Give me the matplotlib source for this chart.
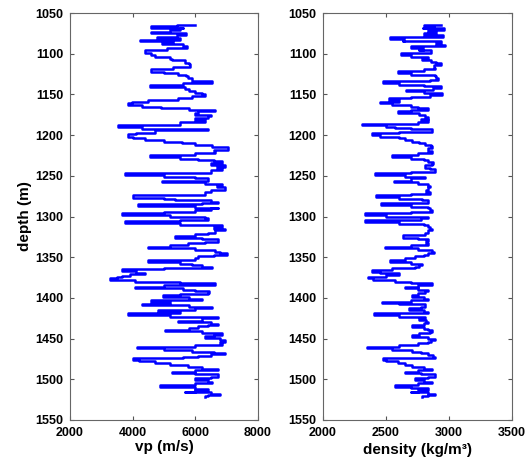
import matplotlib
matplotlib.use("Agg")
import matplotlib.pyplot as plt

# well log readings: depth (m) and P-wave velocity (m/s)
vp_depth = [1065, 1066, 1068, 1069, 1071, 1073, 1075, 1077, 1079, 1081, 1083, 1085, 1087, 1088, 1090,
            1093, 1096, 1099, 1101, 1104, 1106, 1108, 1111, 1113, 1116, 1119, 1122, 1124, 1126, 1128,
            1130, 1133, 1136, 1138, 1141, 1143, 1146, 1148, 1150, 1152, 1155, 1157, 1159, 1161, 1163,
            1165, 1167, 1169, 1171, 1173, 1175, 1177, 1179, 1181, 1184, 1187, 1190, 1192, 1194, 1197,
            1199, 1202, 1204, 1206, 1208, 1210, 1212, 1215, 1218, 1220, 1222, 1225, 1227, 1229, 1230,
            1232, 1234, 1237, 1239, 1241, 1243, 1246, 1249, 1251, 1253, 1256, 1258, 1260, 1261, 1264,
            1267, 1270, 1272, 1274, 1277, 1279, 1280, 1282, 1283, 1285, 1287, 1289, 1290, 1292, 1294,
            1296, 1298, 1300, 1302, 1304, 1306, 1308, 1310, 1313, 1315, 1317, 1320, 1322, 1324, 1326,
            1328, 1331, 1333, 1335, 1337, 1339, 1341, 1343, 1345, 1347, 1349, 1351, 1353, 1356, 1358,
            1360, 1362, 1363, 1365, 1367, 1369, 1371, 1373, 1374, 1376, 1378, 1380, 1382, 1384, 1386,
            1388, 1390, 1392, 1394, 1395, 1397, 1399, 1401, 1403, 1405, 1407, 1409, 1411, 1413, 1415,
            1417, 1419, 1421, 1423, 1425, 1428, 1430, 1432, 1433, 1435, 1437, 1439, 1441, 1443, 1445,
            1447, 1449, 1452, 1454, 1456, 1458, 1460, 1462, 1464, 1466, 1468, 1469, 1471, 1473, 1474,
            1476, 1478, 1480, 1482, 1485, 1487, 1489, 1491, 1492, 1494, 1497, 1499, 1501, 1503, 1505,
            1507, 1510, 1512, 1513, 1515, 1516, 1518, 1519, 1521, 1522]
vp = [5990, 5400, 4600, 5600, 5500, 5200, 4600, 5700, 5400, 4780, 5500, 4230, 5300, 4950, 5600,
      5720, 5100, 4390, 4600, 4710, 5200, 5240, 5670, 5800, 5830, 5300, 4600, 5000, 5450, 5700,
      5770, 5900, 6520, 5600, 4550, 5670, 5800, 5990, 6200, 6310, 5900, 5450, 4500, 3970, 3860,
      4300, 4920, 5800, 6620, 6100, 5990, 6500, 6410, 6000, 6310, 5500, 3540, 4300, 6410, 4710,
      4100, 3860, 4000, 4390, 5000, 5560, 6000, 6520, 7050, 6600, 6620, 6000, 4550, 5500, 6090,
      6600, 6840, 6500, 6940, 6700, 6840, 6500, 3755, 5000, 6000, 6400, 4925, 6300, 6840, 6700,
      6940, 6500, 6300, 6310, 4020, 5000, 5350, 6500, 6730, 6200, 4180, 6000, 6730, 6500, 5990,
      5000, 3650, 5200, 6310, 6410, 5500, 3755, 5500, 6840, 6600, 6940, 6620, 6400, 6000, 5350,
      6200, 6730, 6300, 5770, 5200, 4500, 6000, 6630, 6800, 7000, 6600, 6100, 6000, 4500, 5500,
      5880, 6200, 6520, 5000, 3650, 4100, 4390, 3900, 3650, 3500, 3280, 4070, 5500, 6630, 5000,
      4074, 5600, 5990, 6450, 6410, 5500, 4980, 5800, 6200, 4600, 5200, 4290, 5800, 6520, 6000,
      4820, 5500, 3860, 5200, 6730, 6200, 5450, 6500, 6730, 6400, 6090, 5800, 5030, 6200, 6840,
      6600, 6300, 6800, 6940, 6800, 6840, 6000, 4125, 5000, 5880, 6600, 6940, 6500, 6090, 5600,
      4020, 4200, 4710, 5200, 5770, 6200, 6730, 6000, 5240, 6000, 6730, 6500, 5990, 6400, 6520,
      6000, 4870, 6000, 6410, 6000, 5670, 6500, 6790, 6400, 6310]

# depth (m) and bulk density (kg/m^3)
rho_depth = [1065, 1066, 1068, 1069, 1071, 1073, 1075, 1077, 1079, 1082, 1084, 1085, 1087, 1089, 1091,
             1093, 1095, 1096, 1099, 1102, 1104, 1106, 1108, 1110, 1112, 1114, 1117, 1119, 1121, 1124,
             1126, 1128, 1130, 1132, 1134, 1136, 1138, 1140, 1142, 1144, 1146, 1148, 1151, 1153, 1155,
             1157, 1159, 1161, 1163, 1165, 1167, 1169, 1171, 1173, 1175, 1178, 1180, 1182, 1184, 1186,
             1188, 1190, 1191, 1193, 1196, 1198, 1200, 1202, 1204, 1206, 1208, 1210, 1212, 1214, 1216,
             1219, 1222, 1224, 1227, 1229, 1230, 1233, 1235, 1237, 1240, 1242, 1245, 1247, 1249, 1251,
             1253, 1256, 1258, 1260, 1262, 1264, 1267, 1270, 1272, 1274, 1276, 1278, 1280, 1282, 1283,
             1286, 1288, 1290, 1292, 1294, 1296, 1298, 1300, 1302, 1304, 1307, 1309, 1311, 1313, 1315,
             1317, 1320, 1323, 1326, 1328, 1330, 1333, 1335, 1337, 1339, 1341, 1343, 1345, 1347, 1349,
             1351, 1354, 1356, 1358, 1360, 1362, 1363, 1366, 1368, 1370, 1372, 1374, 1376, 1378, 1380,
             1382, 1384, 1386, 1388, 1390, 1392, 1394, 1397, 1399, 1401, 1403, 1405, 1406, 1408, 1411,
             1413, 1415, 1417, 1419, 1421, 1423, 1425, 1427, 1429, 1431, 1433, 1436, 1438, 1440, 1442,
             1443, 1446, 1448, 1450, 1452, 1454, 1456, 1458, 1460, 1462, 1464, 1466, 1468, 1470, 1472,
             1474, 1476, 1478, 1480, 1482, 1485, 1487, 1489, 1491, 1492, 1494, 1497, 1499, 1501, 1503,
             1505, 1507, 1510, 1511, 1513, 1515, 1516, 1518, 1519, 1521, 1522]
rho = [2940, 2800, 2880, 2790, 2960, 2830, 2900, 2800, 2950, 2532, 2640, 2635, 2940, 2900, 2968,
       2700, 2790, 2760, 2860, 2620, 2700, 2830, 2784, 2860, 2900, 2940, 2880, 2889, 2800, 2595,
       2700, 2889, 2900, 2916, 2850, 2476, 2600, 2800, 2940, 2870, 2660, 2800, 2942, 2850, 2700,
       2520, 2600, 2450, 2550, 2700, 2750, 2836, 2700, 2598, 2760, 2810, 2830, 2780, 2836, 2750,
       2307, 2500, 2572, 2700, 2866, 2600, 2390, 2450, 2600, 2650, 2704, 2760, 2810, 2860, 2863,
       2830, 2863, 2750, 2545, 2700, 2800, 2830, 2870, 2863, 2810, 2850, 2889, 2700, 2413, 2650,
       2810, 2700, 2560, 2750, 2836, 2850, 2836, 2820, 2850, 2700, 2420, 2600, 2784, 2830, 2836,
       2460, 2700, 2836, 2850, 2863, 2700, 2333, 2500, 2836, 2780, 2333, 2600, 2800, 2836, 2850,
       2863, 2830, 2810, 2638, 2750, 2836, 2820, 2836, 2700, 2492, 2750, 2863, 2880, 2836, 2800,
       2730, 2650, 2532, 2700, 2784, 2760, 2730, 2550, 2390, 2450, 2600, 2500, 2360, 2400, 2572,
       2700, 2863, 2750, 2651, 2750, 2830, 2810, 2750, 2704, 2800, 2836, 2700, 2466, 2600, 2810,
       2780, 2680, 2800, 2836, 2405, 2600, 2810, 2760, 2820, 2836, 2800, 2704, 2800, 2836, 2863,
       2850, 2760, 2704, 2830, 2889, 2860, 2836, 2750, 2600, 2347, 2550, 2704, 2780, 2836, 2870,
       2889, 2479, 2500, 2598, 2650, 2704, 2800, 2863, 2750, 2651, 2780, 2889, 2830, 2730, 2800,
       2863, 2750, 2572, 2700, 2836, 2750, 2700, 2830, 2889, 2830, 2784]

depth_ticks = [1050, 1100, 1150, 1200, 1250, 1300, 1350, 1400, 1450, 1500, 1550]
vp_ticks = [2000, 4000, 6000, 8000]
rho_ticks = [2000, 2500, 3000, 3500]

plt.rcParams['font.family'] = ['Liberation Sans', 'DejaVu Sans']
plt.rcParams['font.weight'] = 'bold'

fig = plt.figure(figsize=(5.28, 4.66), dpi=100)
ax1 = fig.add_axes([70/528, 1-420/466, 188/528, 407/466])
ax2 = fig.add_axes([323/528, 1-420/466, 189/528, 407/466])

# blocky log look: hold each reading until the next depth sample
ax1.plot(vp, vp_depth, color='#0000ff', lw=1.8, drawstyle='steps-post')
ax2.plot(rho, rho_depth, color='#0000ff', lw=1.8, drawstyle='steps-post')

for ax, xt in [(ax1, vp_ticks), (ax2, rho_ticks)]:
    ax.set_ylim(1550, 1050)
    ax.set_xlim(xt[0], xt[-1])
    ax.set_xticks(xt)
    ax.set_yticks(depth_ticks)
    ax.tick_params(direction='in', length=3, width=0.8, top=True, right=True,
                   labelsize=9, pad=5, color='#555555')
    for lab in ax.get_xticklabels() + ax.get_yticklabels():
        lab.set_fontweight('bold')
    for s in ax.spines.values():
        s.set_color('#666666')
        s.set_linewidth(0.8)

ax1.set_xlabel('vp (m/s)', fontsize=11, fontweight='bold', labelpad=1)
ax2.set_xlabel('density (kg/m³)', fontsize=11, fontweight='bold', labelpad=3)
ax1.set_ylabel('depth (m)', fontsize=11, fontweight='bold', labelpad=2)

fig.savefig('out.png', dpi=100)
